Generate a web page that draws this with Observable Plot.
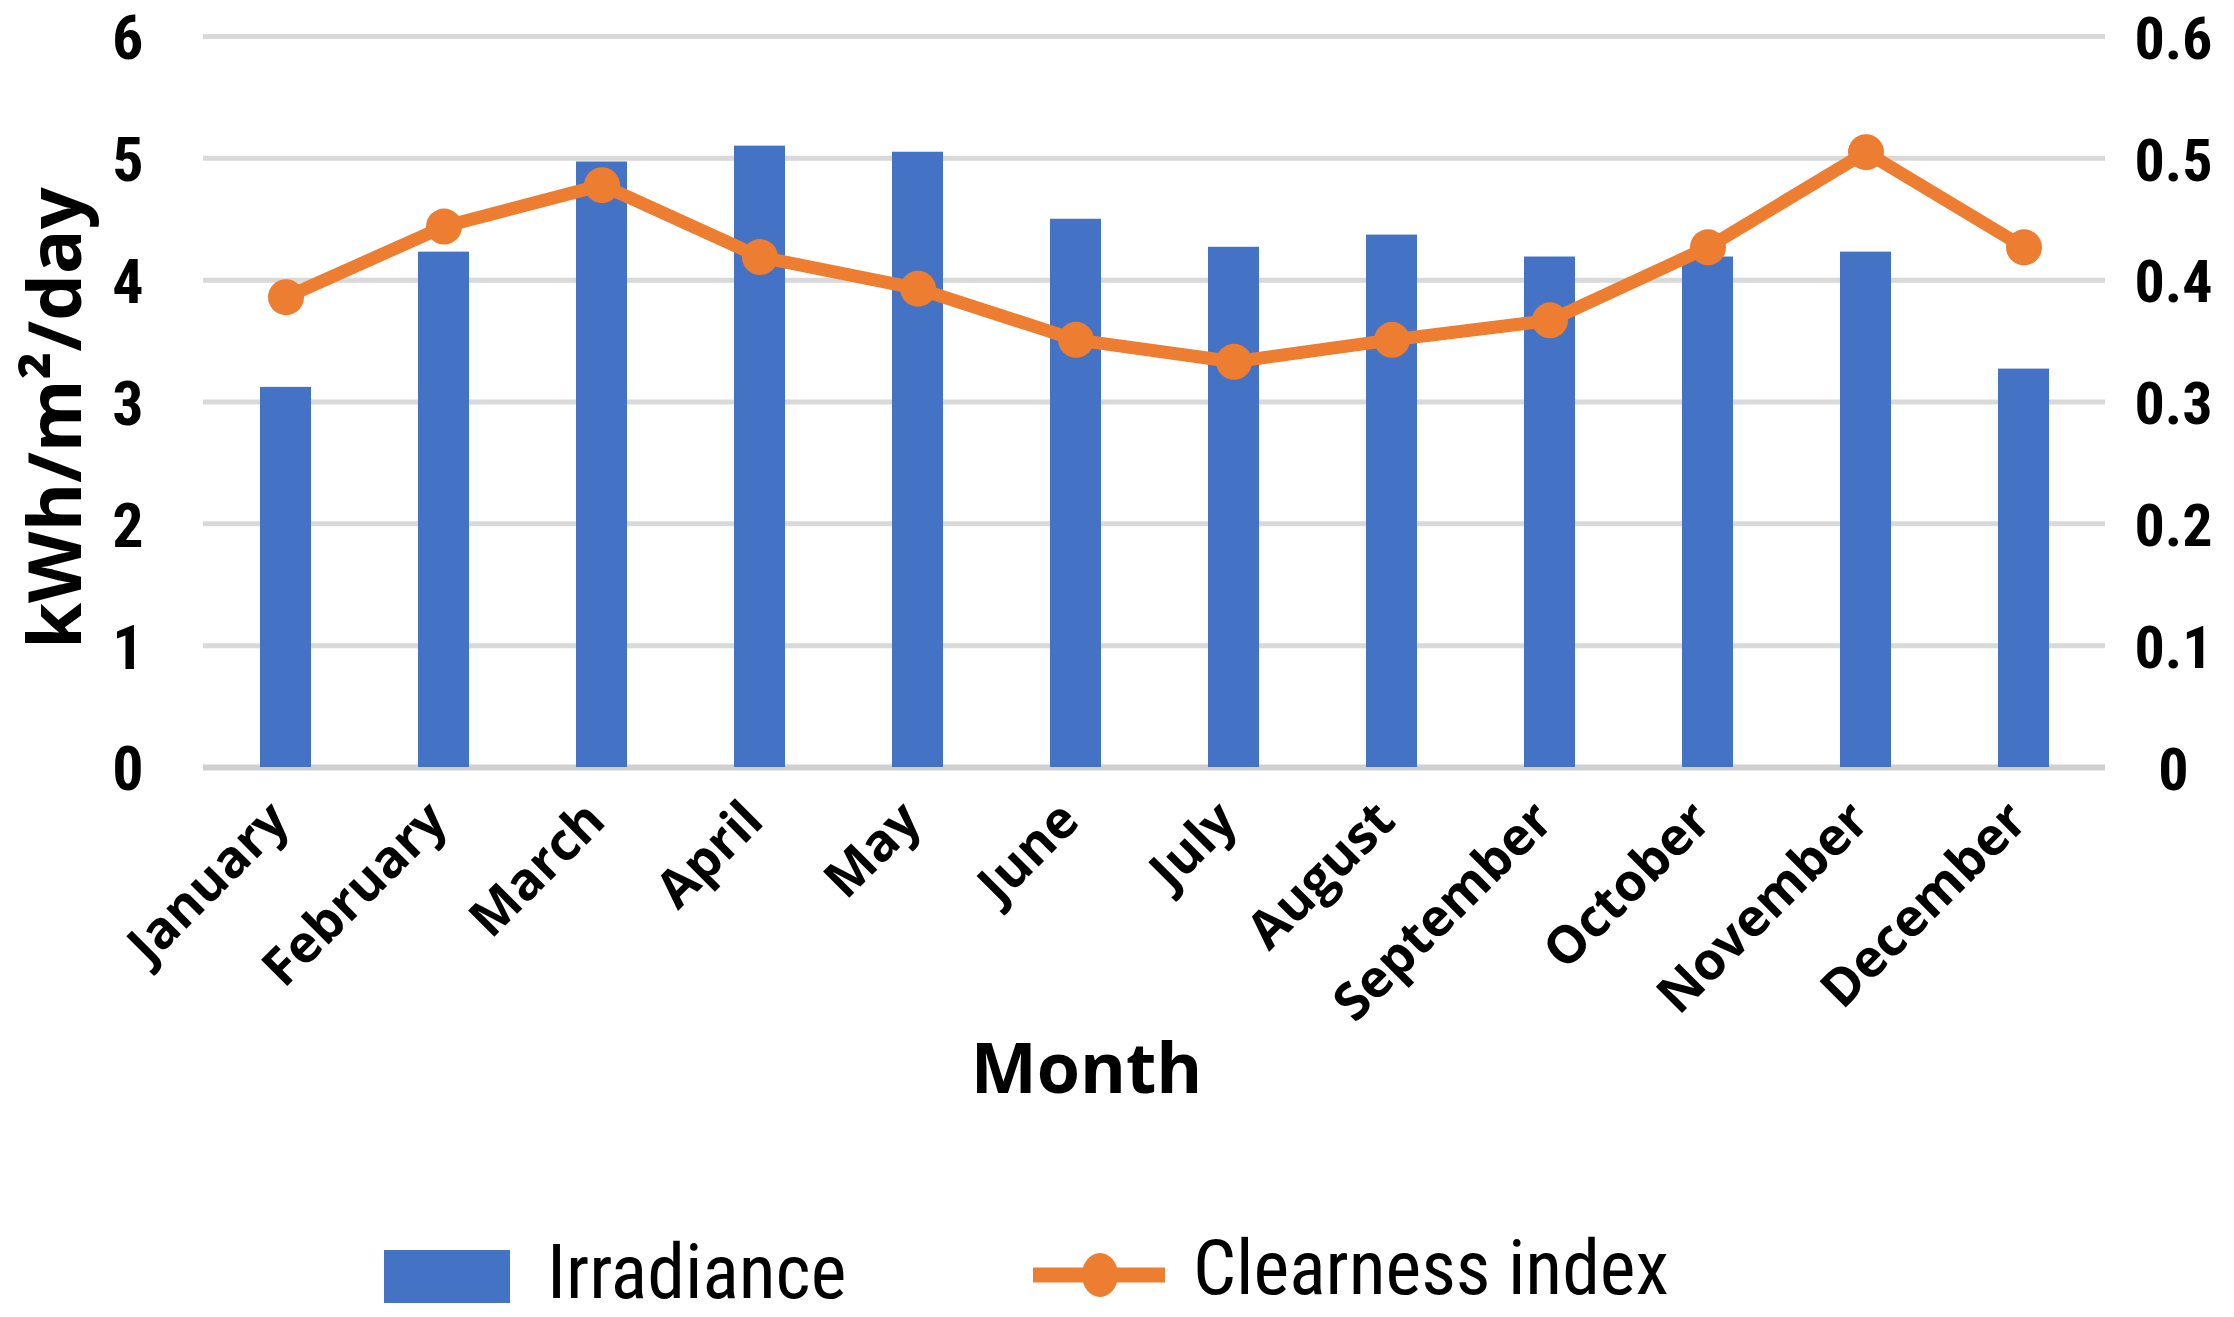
<!DOCTYPE html>
<html><head><meta charset="utf-8">
<script src="https://cdn.jsdelivr.net/npm/d3@7"></script>
<script src="https://cdn.jsdelivr.net/npm/@observablehq/plot@0.6"></script>
<style>
body{margin:0;background:#fff;}
#wrap{position:relative;width:2234px;height:1317px;overflow:hidden;background:#fff;}
.legtxt{position:absolute;font-family:"Liberation Sans Narrow","Roboto Condensed","Liberation Sans",sans-serif;font-size:76px;color:#000;line-height:1;white-space:nowrap;}
</style></head><body><div id="wrap"></div>
<script>
const months = ["January","February","March","April","May","June","July","August","September","October","November","December"];
const irradiance = [3.12,4.23,4.97,5.10,5.05,4.50,4.27,4.37,4.19,4.19,4.23,3.27];
const clearness = [0.386,0.444,0.478,0.419,0.393,0.351,0.333,0.351,0.367,0.427,0.505,0.427];
const leftTicks = [0,1,2,3,4,5,6];
const leftTickLabels = ["0","1","2","3","4","5","6"];
const rightTickLabels = ["0","0.1","0.2","0.3","0.4","0.5","0.6"];
const seriesNames = ["Irradiance","Clearness index"];
const xTitle = "Month";
const yTitle = "kWh/m²/day";
const ratio = 10; // right axis 0.6 aligns with left axis 6

const data = months.map((m,i)=>({month:m, irr:irradiance[i], ci:clearness[i]}));
const narrow = "'Liberation Sans Narrow','Roboto Condensed','Liberation Sans',sans-serif";
const wide = "'Open Sans','DejaVu Sans',sans-serif";

const plot = Plot.plot({
  width:2234, height:1210,
  marginLeft:203, marginRight:129, marginTop:36, marginBottom:443,
  style:{fontFamily:narrow, background:"#fff", color:"#000"},
  x:{domain:months, paddingInner:0.68, paddingOuter:0.34, label:null},
  y:{domain:[0,6], label:null},
  marks:[
    Plot.ruleY(leftTicks.slice(1), {stroke:"#d9d9d9", strokeWidth:5}),
    Plot.ruleY([0], {stroke:"#d0d0d0", strokeWidth:6}),
    Plot.barY(data, {x:"month", y:"irr", fill:"#4472C4"}),
    Plot.lineY(data, {x:"month", y:d=>d.ci*ratio, stroke:"#ED7D31", strokeWidth:13, strokeLinejoin:"round"}),
    Plot.dot(data, {x:"month", y:d=>d.ci*ratio, r:18, fill:"#ED7D31"}),
    Plot.axisY({ticks:leftTicks, tickFormat:d=>leftTickLabels[leftTicks.indexOf(d)], tickSize:0, tickPadding:60, dy:3, fontSize:62, fontWeight:"bold", label:null}),
    Plot.axisY({anchor:"right", ticks:leftTicks, tickFormat:d=>rightTickLabels[leftTicks.indexOf(d)], textAnchor:"middle", tickSize:0, tickPadding:68, dy:3, fontSize:60, fontWeight:"bold", label:null}),
    Plot.axisX({tickRotate:-45, tickSize:0, tickPadding:36, dx:-6, dy:8, fontSize:52, fontWeight:"bold", fontFamily:wide, label:null}),
    Plot.text([xTitle], {frameAnchor:"bottom", dx:-68, dy:303, lineAnchor:"middle", fontSize:70, fontWeight:"bold", fontFamily:wide, fill:"#000"}),
    Plot.text([yTitle], {frameAnchor:"left", textAnchor:"middle", dx:-146, dy:16, rotate:-90, fontSize:74, fontWeight:"bold", fontFamily:wide, fill:"#000"})
  ]
});
const wrap = document.getElementById("wrap");
wrap.appendChild(plot);

// legend
const rect = document.createElement("div");
rect.style.cssText = "position:absolute;left:384px;top:1250px;width:126px;height:53px;background:#4472C4;";
wrap.appendChild(rect);
const t1 = document.createElement("div");
t1.className = "legtxt"; t1.textContent = seriesNames[0];
t1.style.left = "547px"; t1.style.top = "1234px";
wrap.appendChild(t1);
const ns = "http://www.w3.org/2000/svg";
const ls = document.createElementNS(ns,"svg");
ls.setAttribute("width","140"); ls.setAttribute("height","60");
ls.style.cssText = "position:absolute;left:1030px;top:1245px;";
const ln = document.createElementNS(ns,"line");
ln.setAttribute("x1","3"); ln.setAttribute("x2","135"); ln.setAttribute("y1","30"); ln.setAttribute("y2","30");
ln.setAttribute("stroke","#ED7D31"); ln.setAttribute("stroke-width","15");
const cc = document.createElementNS(ns,"ellipse");
cc.setAttribute("cx","70"); cc.setAttribute("cy","30"); cc.setAttribute("rx","18"); cc.setAttribute("ry","22"); cc.setAttribute("fill","#ED7D31");
ls.appendChild(ln); ls.appendChild(cc);
wrap.appendChild(ls);
const t2 = document.createElement("div");
t2.className = "legtxt"; t2.textContent = seriesNames[1];
t2.style.left = "1193px"; t2.style.top = "1230px";
wrap.appendChild(t2);
</script></body></html>
